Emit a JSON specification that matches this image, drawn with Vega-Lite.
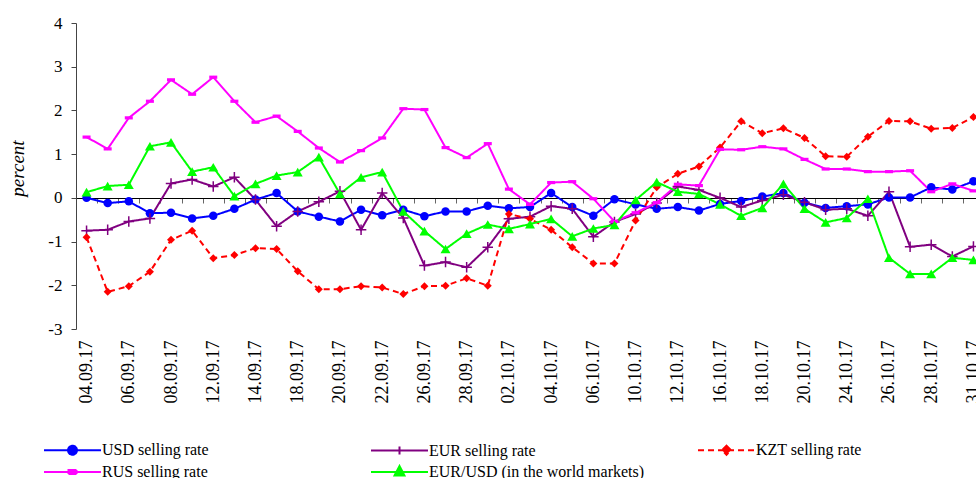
{
  "$schema": "https://vega.github.io/schema/vega-lite/v6.json",
  "width": 900,
  "height": 306,
  "autosize": {"type": "none"},
  "padding": {"left": 76, "top": 23, "right": 0, "bottom": 149},
  "background": "white",
  "config": {"view": {"stroke": null}, "font": "Liberation Serif"},
  "data": {
    "values": [
      {"date": "04.09.17", "usd": 0.00, "eur": -0.75, "kzt": -0.90, "rus": 1.39, "eurusd": 0.13},
      {"date": "05.09.17", "usd": -0.12, "eur": -0.73, "kzt": -2.15, "rus": 1.12, "eurusd": 0.27},
      {"date": "06.09.17", "usd": -0.08, "eur": -0.54, "kzt": -2.02, "rus": 1.83, "eurusd": 0.30},
      {"date": "07.09.17", "usd": -0.35, "eur": -0.47, "kzt": -1.69, "rus": 2.21, "eurusd": 1.18},
      {"date": "08.09.17", "usd": -0.34, "eur": 0.33, "kzt": -0.96, "rus": 2.70, "eurusd": 1.27},
      {"date": "11.09.17", "usd": -0.47, "eur": 0.42, "kzt": -0.75, "rus": 2.37, "eurusd": 0.60},
      {"date": "12.09.17", "usd": -0.41, "eur": 0.26, "kzt": -1.38, "rus": 2.76, "eurusd": 0.70},
      {"date": "13.09.17", "usd": -0.25, "eur": 0.47, "kzt": -1.31, "rus": 2.21, "eurusd": 0.04},
      {"date": "14.09.17", "usd": -0.04, "eur": -0.04, "kzt": -1.15, "rus": 1.73, "eurusd": 0.32},
      {"date": "15.09.17", "usd": 0.11, "eur": -0.65, "kzt": -1.17, "rus": 1.87, "eurusd": 0.51},
      {"date": "18.09.17", "usd": -0.31, "eur": -0.31, "kzt": -1.68, "rus": 1.52, "eurusd": 0.59},
      {"date": "19.09.17", "usd": -0.43, "eur": -0.09, "kzt": -2.09, "rus": 1.14, "eurusd": 0.93},
      {"date": "20.09.17", "usd": -0.54, "eur": 0.15, "kzt": -2.09, "rus": 0.82, "eurusd": 0.09},
      {"date": "21.09.17", "usd": -0.27, "eur": -0.73, "kzt": -2.02, "rus": 1.08, "eurusd": 0.47},
      {"date": "22.09.17", "usd": -0.40, "eur": 0.11, "kzt": -2.05, "rus": 1.37, "eurusd": 0.59},
      {"date": "25.09.17", "usd": -0.27, "eur": -0.46, "kzt": -2.20, "rus": 2.04, "eurusd": -0.31},
      {"date": "26.09.17", "usd": -0.42, "eur": -1.55, "kzt": -2.02, "rus": 2.02, "eurusd": -0.76},
      {"date": "27.09.17", "usd": -0.31, "eur": -1.47, "kzt": -2.01, "rus": 1.15, "eurusd": -1.17},
      {"date": "28.09.17", "usd": -0.31, "eur": -1.59, "kzt": -1.84, "rus": 0.92, "eurusd": -0.82},
      {"date": "29.09.17", "usd": -0.18, "eur": -1.13, "kzt": -2.01, "rus": 1.24, "eurusd": -0.61},
      {"date": "02.10.17", "usd": -0.24, "eur": -0.48, "kzt": -0.37, "rus": 0.20, "eurusd": -0.71},
      {"date": "03.10.17", "usd": -0.21, "eur": -0.43, "kzt": -0.48, "rus": -0.15, "eurusd": -0.60},
      {"date": "04.10.17", "usd": 0.11, "eur": -0.19, "kzt": -0.73, "rus": 0.35, "eurusd": -0.48},
      {"date": "05.10.17", "usd": -0.21, "eur": -0.25, "kzt": -1.13, "rus": 0.37, "eurusd": -0.88},
      {"date": "06.10.17", "usd": -0.41, "eur": -0.89, "kzt": -1.50, "rus": -0.02, "eurusd": -0.70},
      {"date": "09.10.17", "usd": -0.03, "eur": -0.55, "kzt": -1.50, "rus": -0.54, "eurusd": -0.62},
      {"date": "10.10.17", "usd": -0.15, "eur": -0.37, "kzt": -0.52, "rus": -0.34, "eurusd": -0.05},
      {"date": "11.10.17", "usd": -0.25, "eur": -0.12, "kzt": 0.24, "rus": -0.11, "eurusd": 0.36},
      {"date": "12.10.17", "usd": -0.21, "eur": 0.26, "kzt": 0.55, "rus": 0.31, "eurusd": 0.14},
      {"date": "13.10.17", "usd": -0.29, "eur": 0.18, "kzt": 0.72, "rus": 0.28, "eurusd": 0.09},
      {"date": "16.10.17", "usd": -0.14, "eur": 0.00, "kzt": 1.15, "rus": 1.11, "eurusd": -0.15},
      {"date": "17.10.17", "usd": -0.07, "eur": -0.21, "kzt": 1.75, "rus": 1.10, "eurusd": -0.41},
      {"date": "18.10.17", "usd": 0.03, "eur": -0.06, "kzt": 1.48, "rus": 1.17, "eurusd": -0.23},
      {"date": "19.10.17", "usd": 0.11, "eur": 0.07, "kzt": 1.59, "rus": 1.12, "eurusd": 0.32},
      {"date": "20.10.17", "usd": -0.11, "eur": -0.10, "kzt": 1.37, "rus": 0.88, "eurusd": -0.25},
      {"date": "23.10.17", "usd": -0.23, "eur": -0.27, "kzt": 0.95, "rus": 0.66, "eurusd": -0.56},
      {"date": "24.10.17", "usd": -0.19, "eur": -0.25, "kzt": 0.94, "rus": 0.66, "eurusd": -0.46},
      {"date": "25.10.17", "usd": -0.15, "eur": -0.41, "kzt": 1.40, "rus": 0.60, "eurusd": -0.02},
      {"date": "26.10.17", "usd": 0.01, "eur": 0.14, "kzt": 1.76, "rus": 0.60, "eurusd": -1.37},
      {"date": "27.10.17", "usd": 0.01, "eur": -1.12, "kzt": 1.75, "rus": 0.62, "eurusd": -1.74},
      {"date": "28.10.17", "usd": 0.24, "eur": -1.07, "kzt": 1.58, "rus": 0.14, "eurusd": -1.74},
      {"date": "30.10.17", "usd": 0.19, "eur": -1.34, "kzt": 1.60, "rus": 0.32, "eurusd": -1.37},
      {"date": "31.10.17", "usd": 0.38, "eur": -1.11, "kzt": 1.85, "rus": 0.16, "eurusd": -1.42}
    ]
  },
  "transform": [{"fold": ["usd", "eur", "kzt", "rus", "eurusd"], "as": ["series", "value"]}],
  "encoding": {
    "x": {
      "field": "date",
      "type": "ordinal",
      "sort": null,
      "bandPosition": 0.5,
      "scale": {
        "type": "band",
        "paddingInner": 0,
        "paddingOuter": 0,
        "range": [0, 908],
        "domain": ["04.09.17","05.09.17","06.09.17","07.09.17","08.09.17","11.09.17","12.09.17","13.09.17","14.09.17","15.09.17","18.09.17","19.09.17","20.09.17","21.09.17","22.09.17","25.09.17","26.09.17","27.09.17","28.09.17","29.09.17","02.10.17","03.10.17","04.10.17","05.10.17","06.10.17","09.10.17","10.10.17","11.10.17","12.10.17","13.10.17","16.10.17","17.10.17","18.10.17","19.10.17","20.10.17","23.10.17","24.10.17","25.10.17","26.10.17","27.10.17","28.10.17","30.10.17","31.10.17"]
      },
      "axis": {
        "title": null,
        "offset": -131,
        "tickBand": "extent",
        "tickSize": 5,
        "tickColor": "#666666",
        "domainColor": "black",
        "domainWidth": 1,
        "labelAngle": 270,
        "labelAlign": "right",
        "labelBaseline": "middle",
        "labelPadding": 137,
        "labelFont": "Liberation Serif",
        "labelFontSize": 18,
        "labelColor": "black",
        "labelOverlap": false,
        "labelExpr": "indexof(['04.09.17','06.09.17','08.09.17','12.09.17','14.09.17','18.09.17','20.09.17','22.09.17','26.09.17','28.09.17','02.10.17','04.10.17','06.10.17','10.10.17','12.10.17','16.10.17','18.10.17','20.10.17','24.10.17','26.10.17','28.10.17','31.10.17'], datum.value) >= 0 ? datum.label : ''"
      }
    },
    "y": {
      "field": "value",
      "type": "quantitative",
      "scale": {"domain": [-3, 4], "nice": false, "zero": false},
      "axis": {
        "title": "percent",
        "titleFont": "Liberation Serif",
        "titleFontStyle": "italic",
        "titleFontWeight": "normal",
        "titleFontSize": 19,
        "titleColor": "black",
        "titlePadding": 20,
        "titleY": 145,
        "values": [-3, -2, -1, 0, 1, 2, 3, 4],
        "labelExpr": "'' + datum.value",
        "labelFont": "Liberation Serif",
        "labelFontSize": 17,
        "labelColor": "black",
        "labelPadding": 9,
        "tickSize": 5,
        "tickColor": "#444444",
        "domainColor": "#444444",
        "grid": false
      }
    }
  },
  "layer": [
    {
      "mark": {"type": "line", "strokeWidth": 2},
      "encoding": {
        "color": {
          "field": "series",
          "type": "nominal",
          "scale": {
            "domain": ["usd", "eur", "kzt", "rus", "eurusd"],
            "range": ["#0000ff", "#800080", "#ff0000", "#ff00ff", "#00ff00"]
          },
          "legend": {
            "orient": "none",
            "direction": "horizontal",
            "legendX": -32,
            "legendY": 418,
            "columns": 3,
            "title": null,
            "padding": 0,
            "labelFont": "Liberation Serif",
            "labelFontSize": 16,
            "labelColor": "black",
            "labelOffset": 20.5,
            "labelLimit": 400,
            "symbolSize": 256,
            "symbolOffset": 19.5,
            "symbolStrokeWidth": 2,
            "gridAlign": "all",
            "columnPadding": 49,
            "rowPadding": 3,
            "labelExpr": "datum.value === 'usd' ? 'USD selling rate' : datum.value === 'eur' ? 'EUR selling rate' : datum.value === 'kzt' ? 'KZT selling rate' : datum.value === 'rus' ? 'RUS selling rate' : 'EUR/USD (in the world markets)'",
            "encode": {
              "symbols": {
                "update": {
                  "shape": {"signal": "datum.value === 'usd' ? 'M-3.56,0H3.56M0.56,0A0.56,0.56,0,1,1,-0.56,0A0.56,0.56,0,1,1,0.56,0Z' : datum.value === 'eur' ? 'M-3.56,0H3.56M0,-0.5V0.5' : datum.value === 'kzt' ? 'M-3.56,0H3.56M0,-0.56L0.56,0L0,0.56L-0.56,0Z' : datum.value === 'rus' ? 'M-3.56,0H3.56M-0.5,-0.25H0.5V0.25H-0.5Z' : 'M-3.56,0H3.56M0,-0.75L0.62,0.44H-0.62Z'"},
                  "fill": {"signal": "datum.value === 'usd' ? '#0000ff' : datum.value === 'kzt' ? '#ff0000' : datum.value === 'rus' ? '#ff00ff' : datum.value === 'eurusd' ? '#00ff00' : 'transparent'"},
                  "strokeDash": {"signal": "datum.value === 'kzt' ? [5, 3] : [1, 0]"}
                }
              }
            }
          }
        },
        "strokeDash": {
          "field": "series",
          "type": "nominal",
          "scale": {
            "domain": ["usd", "eur", "kzt", "rus", "eurusd"],
            "range": [[1, 0], [1, 0], [6, 4], [1, 0], [1, 0]]
          },
          "legend": null
        }
      }
    },
    {
      "transform": [{"filter": "datum.series === 'usd'"}],
      "mark": {"type": "point", "shape": "circle", "filled": true, "color": "#0000ff", "size": 72, "opacity": 1}
    },
    {
      "transform": [{"filter": "datum.series === 'eur'"}],
      "mark": {"type": "point", "shape": "M-1,0H1M0,-1V1", "filled": false, "color": "#800080", "size": 110, "strokeWidth": 1.5, "opacity": 1}
    },
    {
      "transform": [{"filter": "datum.series === 'kzt'"}],
      "mark": {"type": "point", "shape": "diamond", "filled": true, "color": "#ff0000", "size": 64, "opacity": 1}
    },
    {
      "transform": [{"filter": "datum.series === 'rus'"}],
      "mark": {"type": "point", "shape": "M-1,-0.4H1V0.4H-1Z", "filled": true, "color": "#ff00ff", "size": 64, "opacity": 1}
    },
    {
      "transform": [{"filter": "datum.series === 'eurusd'"}],
      "mark": {"type": "point", "shape": "triangle-up", "filled": true, "color": "#00ff00", "size": 100, "opacity": 1}
    }
  ]
}
